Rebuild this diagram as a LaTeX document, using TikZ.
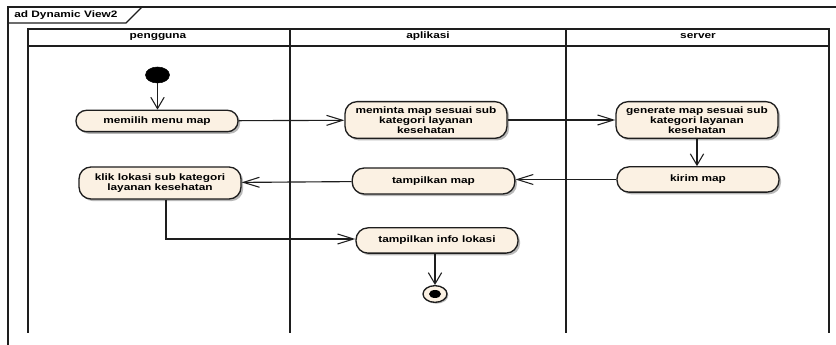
\documentclass[tikz,border=0pt]{standalone}
\usepackage{fontspec}
\setmainfont{Liberation Sans}[FakeStretch=1.27]
\usetikzlibrary{arrows.meta,shadows,positioning,shapes.geometric}
\definecolor{cream}{HTML}{FBF1E3}
\definecolor{ink}{HTML}{1E1E1E}
\tikzset{
  act/.style={draw=ink,line width=1pt,fill=cream,rounded corners=#1,align=center,
    inner sep=0pt,text=black,font=\fontsize{7}{7.4}\selectfont\bfseries,
    drop shadow={shadow xshift=1.6pt,shadow yshift=-1.6pt,fill=black,opacity=.28}},
  act/.default=8pt,
  lbl/.style={font=\fontsize{7}{8}\selectfont\bfseries,inner sep=0pt,text=black},
  frameline/.style={draw=ink,line width=.9pt},
  flowh/.style={draw=ink,line width=.85pt,-{Straight Barb[length=12pt,width=7.5pt,line width=.8pt]}},
  flowv/.style={draw=ink,line width=.85pt,-{Straight Barb[length=8.5pt,width=10pt,line width=.8pt]}},
}
\begin{document}
\begin{tikzpicture}[x=.75pt,y=-.75pt]
\useasboundingbox[fill=white] (0,0) rectangle (836,345);
% frame and tab
\draw[frameline] (8,345) -- (8,7) -- (836,7);
\draw[frameline] (8,23) -- (126,23) -- (142,7);
\node[lbl,anchor=west] (title) at (14,15) {ad Dynamic View2};
% swimlanes
\draw[frameline] (28,333) -- (28,29) -- (829,29) -- (829,333);
\draw[frameline] (28,46) -- (829,46);
\draw[frameline] (290,29) -- (290,333);
\draw[frameline] (566,29) -- (566,333);
\node[lbl] (lane1) at (158,36.5) {pengguna};
\node[lbl] (lane2) at (428,36.5) {aplikasi};
\node[lbl] (lane3) at (698,36.5) {server};
% start and end
\node[draw=black,fill=black,ellipse,minimum width=18pt,minimum height=12pt,inner sep=0pt] (start) at (157.5,75) {};
\node[draw=ink,line width=1pt,fill=cream,ellipse,minimum width=18pt,minimum height=12.5pt,inner sep=0pt,
  drop shadow={shadow xshift=1pt,shadow yshift=-1pt,fill=black,opacity=.28}] (end) at (435,294) {};
\node[fill=black,ellipse,minimum width=9pt,minimum height=6pt,inner sep=0pt] (endcore) at (435,294) {};
% actions
\node[act=7.8pt,minimum width=121.5pt,minimum height=16pt] (memilih) at (157,121) {memilih menu map};
\node[act=9pt,minimum width=121.5pt,minimum height=27.5pt] (meminta) at (426,120) {meminta map sesuai sub\\kategori layanan\\kesehatan};
\node[act=9pt,minimum width=121.5pt,minimum height=27.5pt] (generate) at (697,120) {generate map sesuai sub\\kategori layanan\\kesehatan};
\node[act=9pt,minimum width=121.5pt,minimum height=19pt] (kirim) at (698,179.5) {kirim map};
\node[act=9pt,minimum width=122pt,minimum height=19.5pt] (tmap) at (433.5,181) {tampilkan map};
\node[act=9pt,minimum width=121.5pt,minimum height=24pt] (klik) at (160,183) {klik lokasi sub kategori\\layanan kesehatan};
\node[act=9pt,minimum width=121.5pt,minimum height=19pt] (info) at (437,240.5) {tampilkan info lokasi};
% flows
\draw[flowv] (start) -- (memilih.north -| start);
\draw[flowh] (memilih) -- (meminta);
\draw[flowh] (meminta) -- (generate);
\draw[flowv] (generate) -- (kirim.north -| generate);
\draw[flowh] (kirim) -- (tmap.east |- kirim);
\draw[flowh] (tmap) -- (klik);
\coordinate (bend) at (166,239);
\draw[flowh] (klik.south -| bend) -- (bend) -- (info.west |- bend);
\draw[flowv] (info.south -| end) -- (end);
\end{tikzpicture}
\end{document}
